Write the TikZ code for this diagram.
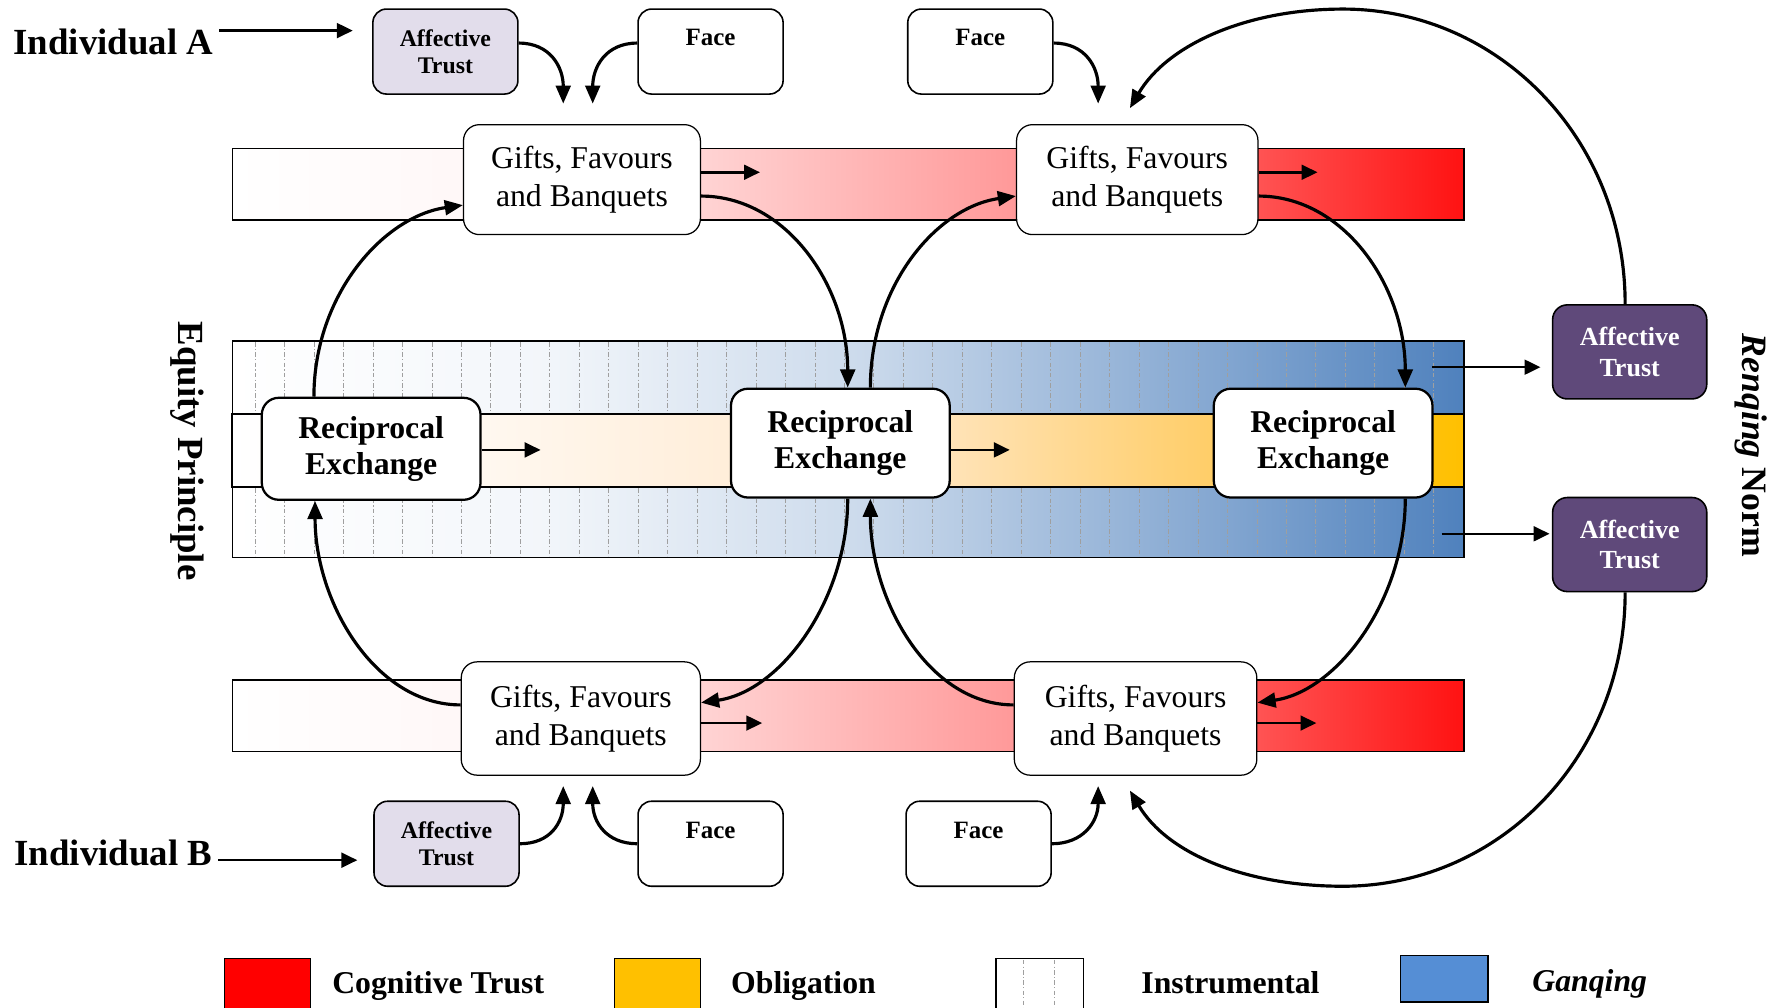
\documentclass[tikz,border=0pt]{standalone}
\usepackage{fontspec}
\setmainfont{Liberation Serif}
\usetikzlibrary{arrows.meta}

\definecolor{lav}{HTML}{E2DDEB}
\definecolor{dpur}{HTML}{5F497A}
\definecolor{bandblue}{HTML}{4F81BD}
\definecolor{legblue}{HTML}{558ED5}
\definecolor{gold}{HTML}{FFC000}
\definecolor{yA}{HTML}{FFF8F0}
\definecolor{yB}{HTML}{FFEEDA}
\definecolor{yC}{HTML}{FFE3B8}
\definecolor{yD}{HTML}{FFCD66}
\definecolor{yE}{HTML}{FFC20A}
\colorlet{rA}{red!3}
\colorlet{rB}{red!17}
\colorlet{rC}{red!40}
\colorlet{rD}{red!67}
\colorlet{rE}{red!93}
\colorlet{bA}{bandblue!7}
\colorlet{bB}{bandblue!28}
\colorlet{bC}{bandblue!45}
\colorlet{bD}{bandblue!70}

\pgfdeclarehorizontalshading{redband}{100bp}{color(0bp)=(white); color(25bp)=(white); color(34.5bp)=(rA); color(44bp)=(rB); color(56.75bp)=(rC); color(66.5bp)=(rD); color(75bp)=(rE); color(100bp)=(rE)}
\pgfdeclarehorizontalshading{blueband}{100bp}{color(0bp)=(white); color(25bp)=(white); color(37.5bp)=(bA); color(50bp)=(bB); color(56bp)=(bC); color(65bp)=(bD); color(75bp)=(bandblue); color(100bp)=(bandblue)}
\pgfdeclarehorizontalshading{yellowband}{100bp}{color(0bp)=(white); color(25bp)=(white); color(35bp)=(yA); color(45bp)=(yB); color(54bp)=(yC); color(65bp)=(yD); color(73.5bp)=(yE); color(75bp)=(gold); color(100bp)=(gold)}

\tikzset{
  bandline/.style={draw=black, line width=1.4pt},
  dl/.style={draw=gray!75, line width=0.5pt, dash pattern=on 4pt off 2pt on 1pt off 2pt},
  gbox/.style={draw=black, line width=1.1pt, fill=white, rounded corners=14pt, align=center, inner sep=0pt,
    font=\fontsize{28}{33}\selectfont},
  rebox/.style={draw=black, line width=2pt, fill=white, rounded corners=15pt, align=center, inner sep=0pt,
    minimum width=193pt, font=\fontsize{28}{32}\selectfont\bfseries},
  smallbox/.style={draw=black, line width=1.4pt, rounded corners=12pt, align=center, inner sep=0pt,
    minimum width=128pt, minimum height=75pt, font=\fontsize{21}{24}\selectfont\bfseries},
  atbox/.style={smallbox, fill=lav},
  facebox/.style={smallbox, fill=white, font=\fontsize{22}{24}\selectfont\bfseries},
  darkbox/.style={draw=black, line width=1.4pt, fill=dpur, text=white, rounded corners=13pt, align=center,
    inner sep=0pt, minimum width=136pt, minimum height=83pt, font=\fontsize{23}{27}\selectfont\bfseries},
  bigtxt/.style={inner sep=0pt, font=\fontsize{32.5}{36}\selectfont\bfseries},
  legtxt/.style={inner sep=0pt, anchor=base west, font=\fontsize{28}{32}\selectfont\bfseries},
  carr/.style={line width=2.8pt, -{Triangle[length=16pt,width=13pt]}},
  sarr/.style={line width=2.2pt, -{Triangle[length=14pt,width=13pt]}},
}

\begin{document}
\begin{tikzpicture}[x=1pt,y=-1pt]
\useasboundingbox (0,0) rectangle (1568,889);
\fill[white] (0,0) rectangle (1568,889);

% ---- bands ----
\shade[shading=redband] (205,131) rectangle (1292,194);
\draw[bandline] (205,131) rectangle (1292,194);
\shade[shading=redband] (205,600) rectangle (1292,663);
\draw[bandline] (205,600) rectangle (1292,663);

\shade[shading=blueband] (205,301) rectangle (1292,492);
\foreach \i [evaluate=\i as \xx using 225+26*\i] in {0,...,40} {
  \draw[dl] (\xx,302) -- (\xx,364);
  \draw[dl] (\xx,431) -- (\xx,491);
}
\shade[shading=yellowband] (205,365) rectangle (1292,430);
\draw[bandline, line width=2pt] (205,365) rectangle (1292,430);
\draw[bandline] (205,301) rectangle (1292,492);

% ---- nodes ----
\node[bigtxt] (IA) at (100,37) {Individual A};
\node[bigtxt] (IB) at (100,753) {Individual B};

\node[atbox] (atA) at (393,45.5) {Affective\\Trust};
\node[facebox] (faceA1) at (627,45.5) {Face\\\phantom{Trust}};
\node[facebox] (faceA2) at (865,45.5) {Face\\\phantom{Trust}};

\node[gbox, minimum width=209pt, minimum height=97pt] (gA1) at (513.5,158.5) {Gifts, Favours\\and Banquets};
\node[gbox, minimum width=213pt, minimum height=97pt] (gA2) at (1003.5,158.5) {Gifts, Favours\\and Banquets};
\node[gbox, minimum width=211pt, minimum height=100pt] (gB1) at (512.5,634) {Gifts, Favours\\and Banquets};
\node[gbox, minimum width=214pt, minimum height=100pt] (gB2) at (1002,634) {Gifts, Favours\\and Banquets};

\node[atbox] (atB) at (394,744.5) {Affective\\Trust};
\node[facebox] (faceB1) at (627,744.5) {Face\\\phantom{Trust}};
\node[facebox] (faceB2) at (863.5,744.5) {Face\\\phantom{Trust}};

\node[rebox, minimum height=90pt] (RE1) at (327.5,396) {Reciprocal\\Exchange};
\node[rebox, minimum height=96pt] (RE2) at (741.5,391) {Reciprocal\\Exchange};
\node[rebox, minimum height=96pt] (RE3) at (1167.5,391) {Reciprocal\\Exchange};

\node[darkbox] (ATR1) at (1438,310.5) {Affective\\Trust};
\node[darkbox] (ATR2) at (1438,480.5) {Affective\\Trust};

\node[bigtxt, rotate=-90] (EP) at (165,398) {Equity Principle};
\node[bigtxt, rotate=-90, font=\fontsize{31.5}{36}\selectfont\bfseries] (RN) at (1545,393) {\textit{Renqing} Norm};

% ---- straight arrows ----
\draw[sarr] ([xshift=5pt,yshift=10pt]IA.east) -- ([xshift=-17pt,yshift=18.5pt]atA.west);
\draw[sarr] ([xshift=5pt,yshift=-6pt]IB.east) -- ([xshift=-14pt,yshift=-14.5pt]atB.west);

\draw[sarr] ([yshift=6.5pt]gA1.east) -- ([xshift=52pt,yshift=6.5pt]gA1.east);
\draw[sarr] ([yshift=6.5pt]gA2.east) -- ([xshift=52pt,yshift=6.5pt]gA2.east);
\draw[sarr] ([yshift=-4pt]gB1.east) -- ([xshift=54pt,yshift=-4pt]gB1.east);
\draw[sarr] ([yshift=-4pt]gB2.east) -- ([xshift=52pt,yshift=-4pt]gB2.east);
\draw[sarr] ([yshift=-1pt]RE1.east) -- ([xshift=52pt,yshift=-1pt]RE1.east);
\draw[sarr] ([yshift=-6pt]RE2.east) -- ([xshift=52pt,yshift=-6pt]RE2.east);

\coordinate (s1) at (1264,324);
\coordinate (s2) at (1272,471);
\draw[sarr] (s1) -- ([xshift=-10pt,yshift=-13.5pt]ATR1.west);
\draw[sarr] (s2) -- ([xshift=-2pt,yshift=9.5pt]ATR2.west);

% ---- small curved arrows (top) ----
\draw[carr] ([yshift=7.5pt]atA.east) .. controls +(28,0) and +(0,-32) .. ([xshift=-16.5pt,yshift=18pt]gA1.north);
\draw[carr] ([yshift=7.5pt]faceA1.west) .. controls +(-28,0) and +(0,-32) .. ([xshift=9.5pt,yshift=18pt]gA1.north);
\draw[carr] ([yshift=7.5pt]faceA2.east) .. controls +(28,0) and +(0,-32) .. ([xshift=-34.5pt,yshift=18pt]gA2.north);

% ---- small curved arrows (bottom) ----
\draw[carr] (atB.east) .. controls +(27,0) and +(0,32) .. ([xshift=-15.5pt,yshift=-9pt]gB1.south);
\draw[carr] (faceB1.west) .. controls +(-27,0) and +(0,32) .. ([xshift=10.5pt,yshift=-9pt]gB1.south);
\draw[carr] (faceB2.east) .. controls +(27,0) and +(0,32) .. ([xshift=-33pt,yshift=-9pt]gB2.south);

% ---- big arcs ----
\draw[carr] ([xshift=-4pt]ATR1.north) .. controls +(0,-145) and +(138,0) .. (1185,8)
   .. controls +(-85,0) and +(33,-56) .. ([xshift=-6.5pt,yshift=14pt]gA2.north);
\draw[carr] ([xshift=-4pt]ATR2.south) .. controls +(0,145) and +(138,0) .. (1185,782)
   .. controls +(-85,0) and +(33,56) .. ([xshift=-5pt,yshift=-13pt]gB2.south);

% ---- cycle arrows (upper) ----
\draw[carr] ([xshift=-50.5pt]RE1.north) .. controls +(0,-90) and +(-70,10) .. ([yshift=-22.5pt]gA1.west);
\draw[carr] ([yshift=-14.5pt]gA1.east) .. controls +(75,0) and +(0,-90) .. ([xshift=6.5pt]RE2.north);
\draw[carr] ([xshift=26.5pt]RE2.north) .. controls +(0,-90) and +(-70,10) .. ([yshift=-14.5pt]gA2.west);
\draw[carr] ([yshift=-14.5pt]gA2.east) .. controls +(75,0) and +(0,-90) .. ([xshift=72.5pt]RE3.north);

% ---- cycle arrows (lower) ----
\draw[carr] ([yshift=12pt]gB1.west) .. controls +(-75,0) and +(0,90) .. ([xshift=-49.5pt]RE1.south);
\draw[carr] ([xshift=6.5pt]RE2.south) .. controls +(0,90) and +(70,-10) .. ([yshift=14pt]gB1.east);
\draw[carr] ([yshift=12pt]gB2.west) .. controls +(-75,0) and +(0,90) .. ([xshift=26.5pt]RE2.south);
\draw[carr] ([xshift=72.5pt]RE3.south) .. controls +(0,90) and +(70,-10) .. ([yshift=14pt]gB2.east);

% ---- legend ----
\draw[line width=1.2pt, fill=red] (198,846) rectangle (274,895);
\node[legtxt] (L1) at (293,877) {Cognitive Trust};
\draw[line width=1.2pt, fill=gold] (542,846) rectangle (618,895);
\node[legtxt] (L2) at (645,877) {Obligation};
\draw[line width=1.2pt, fill=white] (879,846) rectangle (956,895);
\draw[dl] (903,847) -- (903,894);
\draw[dl] (930,847) -- (930,894);
\node[legtxt] (L3) at (1007,877) {Instrumental};
\draw[line width=1.2pt, fill=legblue] (1236,843) rectangle (1313,884);
\node[legtxt] (L4) at (1352,875) {\textit{Ganqing}};
\end{tikzpicture}
\end{document}
